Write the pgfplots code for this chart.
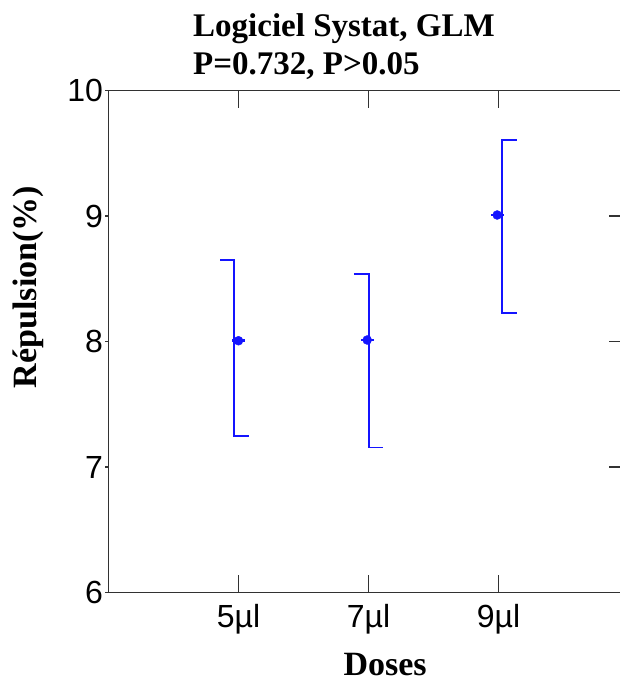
\documentclass[border=0pt]{standalone}
\usepackage{fontspec}
\setmainfont{Liberation Serif}
\newfontfamily\arial{Liberation Sans}
\usepackage{pgfplots}
\pgfplotsset{compat=1.18}
\definecolor{axgray}{RGB}{50,50,50}
\definecolor{ebblue}{RGB}{20,20,255}
\begin{document}
\begin{tikzpicture}
\begin{axis}[
  at={(0,0)}, anchor=south west,
  scale only axis, width=520pt, height=502pt,
  xmin=0, xmax=4, ymin=6, ymax=10,
  xtick={1,2,3}, xticklabels={5µl,7µl,9µl},
  ytick={6,7,8,9,10},
  xtick pos=both, xtick align=inside,
  ytick pos=left, ytick align=outside,
  xtick style={/pgfplots/major tick length=17pt, line width=1.5pt, color=axgray},
  ytick style={/pgfplots/major tick length=3pt, line width=1.5pt, color=axgray},
  axis line style={line width=1.5pt, color=axgray},
  tick label style={font=\arial\fontsize{32}{32}\selectfont, inner sep=0pt},
  /pgf/number format/assume math mode=true,
  xticklabel style={yshift=-12pt},
  yticklabel style={xshift=-1pt},
  xlabel={Doses},
  ylabel={Répulsion(\%)},
  label style={font=\bfseries\fontsize{34}{34}\selectfont},
  xlabel style={at={(axis description cs:0.532,-0.166)}, anchor=base, inner sep=0pt},
  ylabel style={at={(axis description cs:-0.155,0.6086)}, anchor=center, rotate=0, inner sep=0pt},
  title={Logiciel Systat, GLM\\P=0.732, P>0.05},
  title style={font=\bfseries\fontsize{33}{38}\selectfont, align=left, anchor=south west,
    at={(axis description cs:0.1625,1)}, inner sep=0pt, yshift=5pt},
]
% error bars (drawn as in the original, cap directions as shown)
\addplot[ebblue, line width=1.5pt] coordinates {(0.858,8.649) (0.965,8.649) (0.965,7.249) (1.081,7.249)};
\addplot[ebblue, line width=1.5pt] coordinates {(1.888,8.538) (2.004,8.538) (2.004,7.154) (2.109,7.154)};
\addplot[ebblue, line width=1.5pt] coordinates {(3.142,9.606) (3.027,9.606) (3.027,8.227) (3.142,8.227)};
% means
\addplot[only marks, mark=-, mark size=6.5pt, ebblue, mark options={line width=2.5pt}] coordinates {(1,8.006) (1.99,8.012) (2.99,9.008)};
\addplot[only marks, mark=*, mark size=4.5pt, ebblue] coordinates {(1,8.006) (1.99,8.012) (2.99,9.008)};
\end{axis}
\begin{axis}[
  at={(0,0)}, anchor=south west,
  scale only axis, width=520pt, height=502pt,
  xmin=0, xmax=4, ymin=6, ymax=10,
  axis x line=none, axis y line*=right,
  ytick={7,8,9}, yticklabels={},
  ytick align=inside,
  ytick style={/pgfplots/major tick length=19pt, line width=1.5pt, color=axgray},
  axis line style={line width=1.5pt, color=axgray},
]
\addplot[draw=none] coordinates {(0,6)};
\end{axis}
\pgfresetboundingbox
\path[use as bounding box] (-108.5pt,-90.5pt) rectangle (510.5pt,592.5pt);
\end{tikzpicture}
\end{document}
